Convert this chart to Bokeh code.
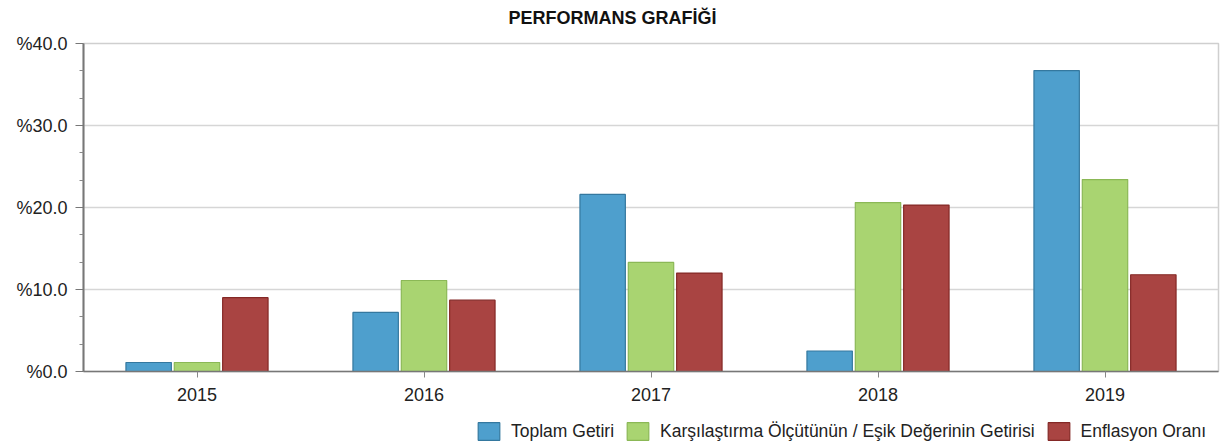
from bokeh.plotting import figure
from bokeh.layouts import column
from bokeh.models import (ColumnDataSource, FactorRange, Range1d, Legend, LegendItem, Label,
                          CustomJSTickFormatter, FixedTicker)
from bokeh.transform import dodge
from bokeh.embed import file_html
from bokeh.resources import INLINE

title_text = "PERFORMANS  GRAFİĞİ"
years = ["2015", "2016", "2017", "2018", "2019"]
toplam_getiri = [1.1, 7.2, 21.6, 2.5, 36.7]
karsilastirma = [1.1, 11.1, 13.3, 20.6, 23.4]
enflasyon = [9.0, 8.7, 12.0, 20.3, 11.8]
series_names = ["Toplam Getiri", "Karşılaştırma Ölçütünün / Eşik Değerinin Getirisi", "Enflasyon Oranı"]
y_ticks = [0, 10, 20, 30, 40]
y_minor = [3.333, 6.667, 13.333, 16.667, 23.333, 26.667, 33.333, 36.667]

FONT = "Liberation Sans"
colors = [("#4E9FCD", "#34789F"), ("#A9D471", "#8BB856"), ("#A94442", "#842826")]
offsets = [-0.213, 0.0, 0.213]

source = ColumnDataSource(dict(years=years, a=toplam_getiri, b=karsilastirma, c=enflasyon))

def strip(h):
    s = figure(width=1223, height=h, output_backend="svg", toolbar_location=None,
               x_axis_type=None, y_axis_type=None, x_range=Range1d(0, 1), y_range=Range1d(0, 1),
               min_border_left=83, min_border_right=5, min_border_top=0, min_border_bottom=0)
    s.outline_line_color = None
    s.grid.grid_line_color = None
    return s

# title strip
top = strip(32)
top.add_layout(Label(x=425, y=15, x_units="screen", y_units="screen", text=title_text,
                     text_font=FONT, text_font_size="18px", text_font_style="bold",
                     text_color="#111111", text_baseline="middle", text_align="left"))

p = figure(width=1223, height=383, output_backend="svg", toolbar_location=None,
           x_range=FactorRange(*years, range_padding=0), y_range=Range1d(0, 40),
           min_border_left=83, min_border_right=5, min_border_top=11, min_border_bottom=44)

for col, off, (fill, line) in zip(["a", "b", "c"], offsets, colors):
    p.vbar(x=dodge("years", off, range=p.x_range), top=col, width=0.2, source=source,
           fill_color=fill, line_color=line, line_width=1.2)

p.xgrid.grid_line_color = None
p.ygrid.grid_line_color = "#d6d6d6"
p.ygrid.grid_line_width = 1.5
p.outline_line_color = "#cfcfcf"
p.outline_line_width = 1.5

p.yaxis.ticker = FixedTicker(ticks=y_ticks, minor_ticks=y_minor)
p.yaxis.formatter = CustomJSTickFormatter(code="return '%' + tick.toFixed(1);")
p.yaxis.axis_line_color = "#777777"
p.yaxis.axis_line_width = 2
p.yaxis.major_tick_line_color = "#777777"
p.yaxis.major_tick_out = 8
p.yaxis.major_tick_in = 0
p.yaxis.minor_tick_line_color = "#888888"
p.yaxis.minor_tick_out = 4
p.yaxis.minor_tick_in = 0
p.yaxis.major_label_standoff = 8
p.yaxis.major_label_text_font = FONT
p.yaxis.major_label_text_font_size = "18px"
p.yaxis.major_label_text_color = "#222222"

p.xaxis.axis_line_color = "#777777"
p.xaxis.axis_line_width = 1.5
p.xaxis.major_tick_line_color = "#888888"
p.xaxis.major_tick_out = 6
p.xaxis.major_tick_in = 0
p.xaxis.minor_tick_line_color = None
p.xaxis.major_label_standoff = 10
p.xaxis.major_label_text_font = FONT
p.xaxis.major_label_text_font_size = "18px"
p.xaxis.major_label_text_color = "#222222"

# legend strip below the chart (its frame is aligned with the chart's frame)
lg = strip(28)
items = []
for name, (fill, line), vals in zip(series_names, colors, [toplam_getiri, karsilastirma, enflasyon]):
    src = ColumnDataSource(dict(x=[0.5], top=[vals[-1]]))
    r = lg.vbar(x="x", top="top", width=0.2, source=src, fill_color=fill, line_color=line,
                line_width=1.2, visible=False)
    items.append(LegendItem(label=name, renderers=[r]))
legend = Legend(items=items, orientation="horizontal", location=(392, 1),
                glyph_width=27, glyph_height=22, label_standoff=9, spacing=10,
                padding=0, margin=0, border_line_color=None, background_fill_alpha=0,
                inactive_fill_alpha=0,
                label_text_font=FONT, label_text_font_size="17.5px", label_text_color="#222222",
                label_height=22)
lg.add_layout(legend, "center")

layout = column(top, p, lg, spacing=0)
open("out.html", "w").write(file_html(layout, INLINE))
